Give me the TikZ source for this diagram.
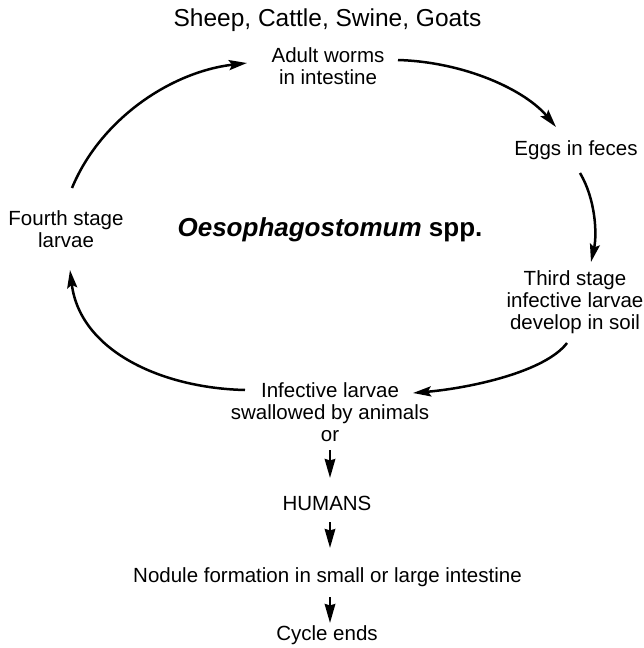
\documentclass[tikz,border=0pt]{standalone}
\usepackage{fontspec}
\setmainfont{Liberation Sans}
\usetikzlibrary{arrows.meta}
\begin{document}
\begin{tikzpicture}[x=1pt,y=1pt,
  lbl/.style={inner sep=0pt, align=center, font=\fontsize{20.5}{21.7}\selectfont},
  cyc/.style={line width=2.5pt, -{Stealth[length=18pt,width=10pt,inset=3pt]}},
  downarr/.style={line width=2.5pt, -{Stealth[length=19pt,width=10.5pt,inset=1.5pt]}}]
\useasboundingbox (0,0) rectangle (643,-648);
\node[lbl, font=\fontsize{24.5}{26}\selectfont] (sheep) at (327.5,-20) {Sheep, Cattle, Swine, Goats};
\node[lbl] (adult) at (328,-66) {Adult worms\\in intestine};
\node[lbl] (eggs) at (576,-150) {Eggs in feces};
\node[lbl] (third) at (575,-302) {Third stage\\infective larvae\\develop in soil};
\node[lbl] (infective) at (330,-412) {Infective larvae\\swallowed by animals\\or};
\node[lbl] (humans) at (327,-503) {HUMANS};
\node[lbl] (nodule) at (327.5,-577) {Nodule formation in small or large intestine};
\node[lbl] (cycle) at (327,-635) {Cycle ends};
\node[lbl] (fourth) at (66,-229) {Fourth stage\\larvae};
\node[inner sep=0pt, font=\fontsize{26}{28}\selectfont\bfseries] (title) at (330,-230) {\itshape Oesophagostomum\upshape\ spp.};
% cycle arrows
\draw[cyc] ([shift={(6,41)}]fourth.center) .. controls (100,-120) and (170,-72) .. ([shift={(-81,3)}]adult.center);
\draw[cyc] ([shift={(70,6)}]adult.center) .. controls (465,-62) and (525,-90) .. ([shift={(-20,23)}]eggs.center);
\draw[cyc] ([shift={(4,-23)}]eggs.center) .. controls (596,-200) and (597,-235) .. ([shift={(16,40)}]third.center);
\draw[cyc] ([shift={(-8,-41)}]third.center) .. controls (545,-372) and (470,-388) .. ([shift={(83,19)}]infective.center);
\draw[cyc] ([shift={(-85,22)}]infective.center) .. controls (160,-388) and (80,-350) .. ([shift={(4,-41)}]fourth.center);
% downward arrows
\draw[downarr] ([shift={(0,-38)}]infective.center) -- ([shift={(3,25)}]humans.center);
\draw[downarr] ([shift={(3,-19)}]humans.center) -- ([shift={(2.5,29)}]nodule.center);
\draw[downarr] ([shift={(2.5,-20)}]nodule.center) -- ([shift={(3,12)}]cycle.center);
\end{tikzpicture}
\end{document}
